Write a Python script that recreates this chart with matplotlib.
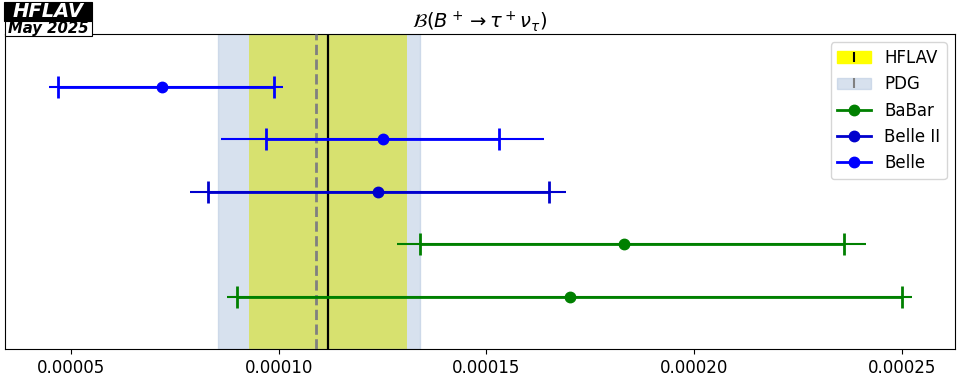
import numpy as np
import matplotlib
matplotlib.use("Agg")
import matplotlib.pyplot as plt
from matplotlib.patches import Patch, Rectangle
from matplotlib.lines import Line2D

# Measurements, top row first (units of 1e-4)
labels = ["Belle", "Belle", "Belle II", "BaBar", "BaBar"]
colors = ["blue", "blue", "mediumblue", "green", "green"]
values = [0.72, 1.25, 1.24, 1.83, 1.70]
stat_hi = [0.27, 0.28, 0.41, 0.53, 0.80]
stat_lo = [0.25, 0.28, 0.41, 0.49, 0.80]
syst = [0.11, 0.27, 0.19, 0.24, 0.20]

hflav_val, hflav_err = 1.12, 0.19
pdg_val, pdg_err_lo, pdg_err_hi = 1.09, 0.235, 0.25
scale = 1e-4

tick_vals = [0.00005, 0.00010, 0.00015, 0.00020, 0.00025]
tick_labels = ["0.00005", "0.00010", "0.00015", "0.00020", "0.00025"]

fig = plt.figure(figsize=(9.6, 3.84), dpi=100)
ax = fig.add_axes([5/960, 1-349/384, 950/960, 315/384])

ylo, yhi = -1, 5
# bands
ax.fill_betweenx([ylo, yhi], (hflav_val - hflav_err)*scale, (hflav_val + hflav_err)*scale,
                 color="yellow", lw=0, zorder=1)
ax.fill_betweenx([ylo, yhi], (pdg_val - pdg_err_lo)*scale, (pdg_val + pdg_err_hi)*scale,
                 color="lightsteelblue", alpha=0.5, zorder=2)
ax.axvline(pdg_val*scale, color="gray", ls="--", lw=2, zorder=3)
ax.axvline(hflav_val*scale, color="black", ls="-", lw=1.6, zorder=3)

n = len(values)
for i in range(n):
    y = n - 1 - i
    v = values[i]*scale
    tot_hi = np.hypot(stat_hi[i], syst[i])*scale
    tot_lo = np.hypot(stat_lo[i], syst[i])*scale
    ax.errorbar([v], [y], xerr=[[tot_lo], [tot_hi]], fmt="none", ecolor=colors[i],
                elinewidth=1.5, capsize=0, zorder=4)
    ax.errorbar([v], [y], xerr=[[stat_lo[i]*scale], [stat_hi[i]*scale]], fmt="o",
                color=colors[i], ms=7.5, elinewidth=2, capsize=8, capthick=2, zorder=5)

ax.set_xlim(3.42e-5, 2.627e-4)
ax.set_ylim(ylo, yhi)
ax.set_yticks([])
ax.set_xticks(tick_vals)
ax.set_xticklabels(tick_labels, fontsize=12)
ax.set_title(r"$\mathcal{B}(B^+ \to \tau^+ \nu_\tau)$", fontsize=14, pad=4)

h_hflav = (Patch(facecolor="yellow", edgecolor="yellow"),
           Line2D([], [], color="black", marker="|", ls="none", ms=7, mew=1.5))
h_pdg = (Patch(facecolor="lightsteelblue", edgecolor="lightsteelblue", alpha=0.5),
         Line2D([], [], color="gray", marker="|", ls="none", ms=7, mew=1.5))
h_babar = Line2D([], [], color="green", marker="o", lw=2, ms=7.5)
h_b2 = Line2D([], [], color="mediumblue", marker="o", lw=2, ms=7.5)
h_b1 = Line2D([], [], color="blue", marker="o", lw=2, ms=7.5)
ax.legend([h_hflav, h_pdg, h_babar, h_b2, h_b1],
          ["HFLAV", "PDG", "BaBar", "Belle II", "Belle"],
          loc="upper right", fontsize=12)

# HFLAV logo
W, H = 960, 384
fig.patches.append(Rectangle((4/W, 1-21/H), 88/W, 19/H, transform=fig.transFigure,
                             facecolor="black", edgecolor="black", lw=0.8))
fig.patches.append(Rectangle((5/W, 1-36/H), 87/W, 15/H, transform=fig.transFigure,
                             facecolor="white", edgecolor="black", lw=0.8))
fig.text(48/W, 1-11.5/H, "HFLAV", color="white", fontsize=14, fontweight="bold",
         fontstyle="italic", va="center", ha="center")
fig.text(48/W, 1-28.5/H, "May 2025", color="black", fontsize=10.7, fontweight="bold",
         fontstyle="italic", va="center", ha="center")

fig.savefig("out.png", dpi=100)
